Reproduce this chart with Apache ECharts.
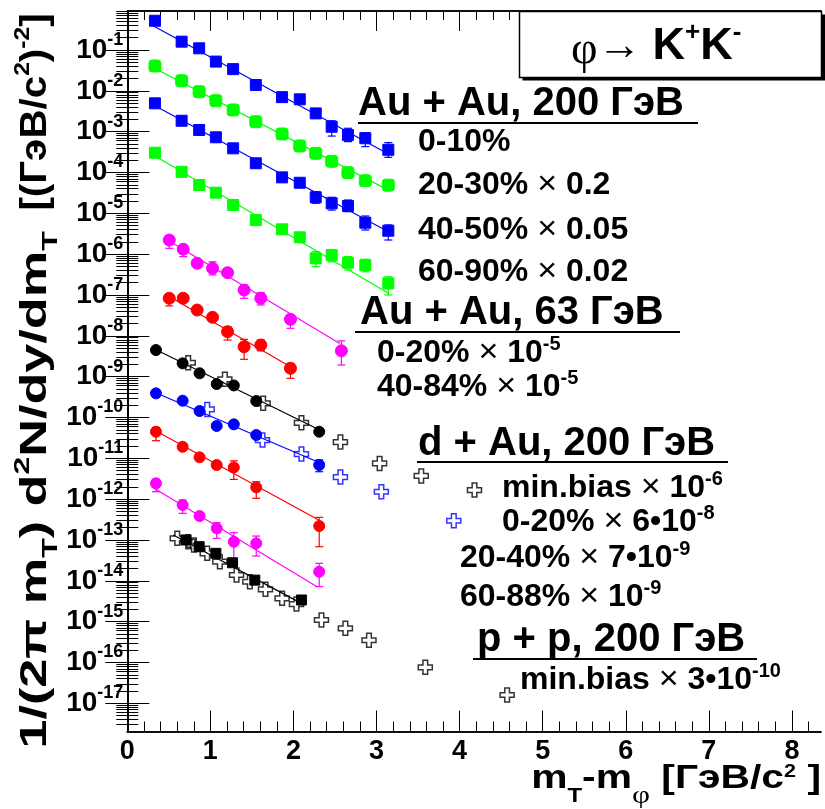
<!DOCTYPE html>
<html>
<head>
<meta charset="utf-8">
<script src="https://cdn.jsdelivr.net/npm/echarts@6/dist/echarts.min.js"></script>
<style>
  html, body { margin: 0; background: #fff; }
  #main { width: 825px; height: 809px; }
</style>
</head>
<body>
<div id="main"></div>
<script>
  // границы осей
  const xMin = 0, xMax = 8.35;
  const yMin = Math.pow(10, -17.69), yMax = Math.pow(10, -0.045);
  const xMajorTicks = [0, 1, 2, 3, 4, 5, 6, 7, 8];
  const yMajorTicks = [1e-17, 1e-16, 1e-15, 1e-14, 1e-13, 1e-12, 1e-11, 1e-10, 1e-9,
                       1e-8, 1e-7, 1e-6, 1e-5, 1e-4, 1e-3, 1e-2, 1e-1];

  // Au + Au, 200 ГэВ
  const xAuAu200 = [0.333, 0.654, 0.865, 1.066, 1.274, 1.547, 1.863, 2.076, 2.268, 2.460, 2.656, 2.865, 3.142];
  const yAuAu200_0_10 = [0.52, 0.16, 0.11, 0.052, 0.034, 0.0139, 0.0070, 0.0062, 0.0028, 0.00132, 0.00083, 0.00069, 0.00036];
  const yAuAu200_20_30 = [0.0406, 0.0177, 0.00953, 0.00573, 0.0034, 0.00175, 8.77e-4, 4.46e-4, 2.95e-4, 1.88e-4, 9.9e-5, 6.3e-5, 4.9e-5];
  const yAuAu200_40_50 = [4.94e-3, 1.85e-3, 1.10e-3, 7.28e-4, 3.91e-4, 1.68e-4, 7.6e-5, 5.6e-5, 2.47e-5, 1.76e-5, 1.51e-5, 5.9e-6, 3.75e-6];
  const yAuAu200_60_90 = [3.05e-4, 1.04e-4, 4.94e-5, 3.2e-5, 1.6e-5, 6.85e-6, 4.06e-6, 2.59e-6, 7.9e-7, 9.5e-7, 6.2e-7, 5.4e-7, 1.93e-7];

  // Au + Au, 63 ГэВ
  const xAuAu63 = [0.505, 0.673, 0.841, 1.026, 1.207, 1.406, 1.607, 1.964, 2.577];
  const yAuAu63_0_20 = [2.22e-6, 1.32e-6, 5.97e-7, 4.5e-7, 3.52e-7, 1.32e-7, 8.3e-8, 2.54e-8, 4.3e-9];
  const yAuAu63_40_84 = [8.3e-8, 8.3e-8, 4.28e-8, 2.84e-8, 1.26e-8, 5.4e-9, 5.96e-9, 1.6e-9];

  // d + Au, 200 ГэВ
  const xDAu = [0.345, 0.666, 0.870, 1.076, 1.282, 1.552, 2.31];
  const yDAuMinBias = [4.49e-9, 2.12e-9, 1.21e-9, 6.6e-10, 6.1e-10, 2.53e-10, 4.48e-11];
  const yDAu_0_20 = [3.9e-10, 2.58e-10, 1.44e-10, 6.2e-11, 6.8e-11, 3.72e-11, 6.86e-12];
  const yDAu_20_40 = [4.48e-11, 1.92e-11, 1.06e-11, 6.86e-12, 6.0e-12, 1.95e-12, 2.2e-13];
  const yDAu_60_88 = [2.44e-12, 7.2e-13, 3.86e-13, 1.93e-13, 9.06e-14, 8.3e-14, 1.67e-14];
  const xDAuMinBiasOpen = [0.733, 1.174, 1.635, 2.096, 2.565, 3.037, 3.538, 4.179];
  const yDAuMinBiasOpen = [2.19e-9, 8.6e-10, 2.22e-10, 7.4e-11, 2.5e-11, 7.5e-12, 3.7e-12, 1.67e-12];
  const xDAu_0_20Open = [0.962, 1.627, 2.096, 2.565, 3.058, 3.930];
  const yDAu_0_20Open = [1.58e-10, 2.8e-11, 1.27e-11, 3.48e-12, 1.52e-12, 2.96e-13];

  // p + p, 200 ГэВ
  const xPP = [0.706, 0.865, 1.066, 1.267, 1.535, 2.096];
  const yPP = [1e-13, 6.84e-14, 4.71e-14, 2.77e-14, 1.04e-14, 3.39e-15];
  const xPPOpen = [0.601, 0.733, 0.802, 0.962, 1.114, 1.315, 1.475, 1.663, 1.863, 2.036, 2.337, 2.625, 2.909, 3.587, 4.572];
  const yPPOpen = [1.1e-13, 9.06e-14, 7.53e-14, 4.71e-14, 2.94e-14, 1.39e-14, 9.5e-15, 6.2e-15, 3.72e-15, 2.7e-15, 1.1e-15, 6.85e-16, 3.5e-16, 7.6e-17, 1.6e-17];

  // фиты (две точки прямой в логарифмическом масштабе)
  const fitAuAu200_0_10 = [[0.293, 0.41], [3.142, 2.84e-4]];
  const fitAuAu200_20_30 = [[0.293, 0.039], [3.142, 3.7e-5]];
  const fitAuAu200_40_50 = [[0.293, 4.75e-3], [3.142, 3.55e-6]];
  const fitAuAu200_60_90 = [[0.293, 2.84e-4], [3.142, 1.1e-7]];
  const fitAuAu63_0_20 = [[0.474, 2.3e-6], [2.557, 6.5e-9]];
  const fitAuAu63_40_84 = [[0.474, 1.0e-7], [1.964, 1.75e-9]];
  const fitDAuMinBias = [[0.333, 4.67e-9], [2.316, 4.93e-11]];
  const fitDAu_0_20 = [[0.313, 4.28e-10], [2.336, 7.5e-12]];
  const fitDAu_20_40 = [[0.313, 5.1e-11], [2.304, 3.08e-13]];
  const fitDAu_60_88 = [[0.293, 2.02e-12], [2.284, 7.2e-15]];
  const fitPP = [[0.553, 1.32e-13], [2.096, 2.8e-15]];

  // ошибки [x, низ, верх]
  const errAuAu200_0_10 = [[2.460, 7.8e-4, 1.85e-3], [2.656, 5.7e-4, 1.21e-3], [2.865, 4.3e-4, 9.4e-4], [3.142, 2.35e-4, 5.4e-4]];
  const errAuAu200_40_50 = [[2.268, 1.76e-5, 3.39e-5], [2.460, 1.2e-5, 2.47e-5], [2.656, 1.1e-5, 2.12e-5], [2.865, 3.9e-6, 8.6e-6], [3.142, 2.22e-6, 5.2e-6]];
  const errAuAu200_60_90 = [[2.268, 4.93e-7, 1.15e-6], [2.460, 6.5e-7, 1.26e-6], [2.656, 4.1e-7, 8.7e-7], [2.865, 3.7e-7, 7.5e-7], [3.142, 1.0e-7, 2.8e-7]];
  const errAuAu63_0_20 = [[0.505, 1.39e-6, 2.67e-6], [0.673, 8.7e-7, 1.68e-6], [1.026, 3.1e-7, 6.5e-7], [1.406, 8.3e-8, 1.75e-7], [1.607, 5.7e-8, 1.14e-7], [1.964, 1.53e-8, 3.24e-8], [2.577, 1.93e-9, 7.5e-9]];
  const errAuAu63_40_84 = [[0.505, 5.4e-8, 1e-7], [1.207, 7.9e-9, 1.67e-8], [1.406, 2.66e-9, 8.2e-9], [1.607, 4.3e-9, 7.9e-9], [1.964, 9.1e-10, 2.1e-9]];
  const errDAu_0_20 = [[2.31, 4.7e-12, 9.1e-12]];
  const errDAu_20_40 = [[0.345, 2.7e-11, 5.7e-11], [1.282, 3.05e-12, 8.7e-12], [1.552, 1.05e-12, 2.67e-12], [2.31, 6.84e-14, 3.59e-13]];
  const errDAu_60_88 = [[0.345, 1.52e-12, 3.05e-12], [0.666, 4.5e-13, 9.5e-13], [1.076, 1.1e-13, 2.65e-13], [1.282, 2.68e-14, 1.51e-13], [1.552, 4.05e-14, 1.25e-13], [2.31, 7.2e-15, 2.68e-14]];

  const BLUE = '#0000ff', GREEN = '#00ff00', MAGENTA = '#ff00ff', RED = '#ff0000', BLACK = '#000000';
  const SANS = "'Liberation Sans', Arial, Helvetica, sans-serif";
  const SERIF = "'Liberation Serif', 'Times New Roman', serif";
  const CROSS = 'path://M3,0L6,0L6,3L9,3L9,6L6,6L6,9L3,9L3,6L0,6L0,3L3,3Z';

  function pts(xs, ys) {
    return xs.map((x, i) => [x, ys[i]]);
  }

  function markers(xs, ys, color, symbol, size, open) {
    return {
      type: 'scatter', data: pts(xs, ys), symbol: symbol, symbolSize: size, z: 5, silent: true,
      itemStyle: open
        ? { color: 'rgba(255,255,255,0)', borderColor: color, borderWidth: 1.5 }
        : { color: color, borderColor: color, borderWidth: 1, opacity: 1 }
    };
  }

  function fit(p, color) {
    return { type: 'line', data: p, symbol: 'none', silent: true, z: 3, lineStyle: { color: color, width: 1.2 } };
  }

  function errors(errs, color) {
    return {
      type: 'custom', data: errs, encode: { x: 0, y: [1, 2] }, z: 4, silent: true,
      renderItem: function (params, api) {
        const lo = api.coord([api.value(0), api.value(1)]);
        const hi = api.coord([api.value(0), api.value(2)]);
        const w = 4, st = { stroke: color, lineWidth: 1.2 };
        return {
          type: 'group', children: [
            { type: 'line', shape: { x1: lo[0], y1: lo[1], x2: hi[0], y2: hi[1] }, style: st },
            { type: 'line', shape: { x1: lo[0] - w, y1: lo[1], x2: lo[0] + w, y2: lo[1] }, style: st },
            { type: 'line', shape: { x1: hi[0] - w, y1: hi[1], x2: hi[0] + w, y2: hi[1] }, style: st }
          ]
        };
      }
    };
  }

  // мелкие деления
  const xMinorTicks = [];
  for (let i = 0; i <= 41; i++) if (i % 5) xMinorTicks.push(i / 5);
  const yMinorTicks = [];
  for (let e = -18; e <= -1; e++) for (let k = 2; k <= 9; k++) yMinorTicks.push(k * Math.pow(10, e));

  const frame = { show: true, lineStyle: { color: '#000', width: 1.5 } };
  const tickStyle = { color: '#000', width: 1 };

  const yLabelRich = {
    b: { fontFamily: SANS, fontWeight: 'bold', fontSize: 28, color: '#000' },
    e: { fontFamily: SANS, fontWeight: 'bold', fontSize: 18, color: '#000', padding: [0, 0, 20, 0] }
  };

  function xAxisDef(pos, ticks, len, labels) {
    return {
      type: 'value', min: xMin, max: xMax, position: pos,
      axisLine: frame, splitLine: { show: false },
      axisTick: { show: true, inside: true, length: len, customValues: ticks, lineStyle: tickStyle },
      axisLabel: labels ? {
        show: true, customValues: xMajorTicks, margin: 7, color: '#000',
        fontFamily: SANS, fontWeight: 'bold', fontSize: 27
      } : { show: false }
    };
  }

  function yAxisDef(pos, ticks, len, labels) {
    return {
      type: 'log', logBase: 10, min: yMin, max: yMax, position: pos,
      axisLine: frame, splitLine: { show: false },
      axisTick: { show: true, inside: true, length: len, customValues: ticks, lineStyle: tickStyle },
      axisLabel: labels ? {
        show: true, customValues: yMajorTicks, margin: 4, color: '#000',
        fontFamily: SANS, fontWeight: 'bold', fontSize: 28,
        formatter: function (v) {
          return '{b|10}{e|' + Math.round(Math.log10(v)) + '}';
        },
        rich: yLabelRich
      } : { show: false }
    };
  }

  const mainRich = {
    h: { fontFamily: SANS, fontWeight: 'bold', fontSize: 40, color: '#000' },
    n: { fontFamily: SANS, fontWeight: 'bold', fontSize: 32, color: '#000' },
    x: { fontFamily: SANS, fontWeight: 'normal', fontSize: 34, color: '#000' },
    s: { fontFamily: SANS, fontWeight: 'bold', fontSize: 20, color: '#000', padding: [0, 0, 18, 0] }
  };

  function label(x, y, text) {
    return { type: 'text', x: x, y: y, z: 10, style: { text: text, rich: mainRich, align: 'left', verticalAlign: 'middle' } };
  }

  function underline(x1, x2, y) {
    return { type: 'line', z: 10, shape: { x1: x1, y1: y, x2: x2, y2: y }, style: { stroke: '#000', lineWidth: 2 } };
  }

  const yTitleRich = {
    n: { fontFamily: SANS, fontWeight: 'bold', fontSize: 36, color: '#000' },
    t: { fontFamily: SANS, fontWeight: 'bold', fontSize: 22, color: '#000', padding: [30, 0, 0, 0] },
    s: { fontFamily: SANS, fontWeight: 'bold', fontSize: 22, color: '#000', padding: [0, 0, 26, 0] }
  };

  const graphics = [
    // рамка заголовка
    { type: 'rect', z: 8, shape: { x: 522.5, y: 14.5, width: 310, height: 66 }, style: { fill: '#000' } },
    { type: 'rect', z: 9, shape: { x: 519.5, y: 11.5, width: 302, height: 66 }, style: { fill: '#fff', stroke: '#000', lineWidth: 1.5 } },
    {
      type: 'text', x: 571, y: 47, z: 10,
      style: {
        text: '{p|φ}{a|→ }{k|K}{u|+}{k|K}{u|-}', align: 'left', verticalAlign: 'middle',
        rich: {
          p: { fontFamily: SERIF, fontSize: 46, color: '#000', padding: [8, 0, 0, 0] },
          a: { fontFamily: SERIF, fontSize: 44, color: '#000' },
          k: { fontFamily: SANS, fontWeight: 'bold', fontSize: 45, color: '#000' },
          u: { fontFamily: SANS, fontWeight: 'bold', fontSize: 26, color: '#000', padding: [0, 0, 28, 0] }
        }
      }
    },
    label(358, 104, '{h|Au + Au, 200 ГэВ}'),
    underline(358, 698, 123),
    label(418, 142, '{n|0-10%}'),
    label(418, 185, '{n|20-30% }{x|×}{n| 0.2}'),
    label(418, 230, '{n|40-50% }{x|×}{n| 0.05}'),
    label(418, 272, '{n|60-90% }{x|×}{n| 0.02}'),
    label(360, 313, '{h|Au + Au, 63 ГэВ}'),
    underline(355, 680, 332),
    label(377, 353, '{n|0-20% }{x|×}{n| 10}{s|-5}'),
    label(377, 387, '{n|40-84% }{x|×}{n| 10}{s|-5}'),
    label(418, 444, '{h|d + Au, 200 ГэВ}'),
    underline(417, 728, 462),
    label(502, 488, '{n|min.bias }{x|×}{n| 10}{s|-6}'),
    label(502, 522, '{n|0-20% }{x|×}{n| 6•10}{s|-8}'),
    label(460, 558, '{n|20-40% }{x|×}{n| 7•10}{s|-9}'),
    label(460, 597, '{n|60-88% }{x|×}{n| 10}{s|-9}'),
    label(477, 640, '{h|p + p, 200 ГэВ}'),
    underline(473, 757, 659),
    label(520, 680, '{n|min.bias }{x|×}{n| 3•10}{s|-10}'),
    // подпись оси X
    {
      type: 'text', x: 821, y: 779, z: 10, scaleX: 1.2,
      style: {
        text: '{n|m}{t|T}{n|-m}{f|φ}{n| [ГэВ/c}{s|2}{n| ]}', align: 'right', verticalAlign: 'middle',
        rich: {
          n: { fontFamily: SANS, fontWeight: 'bold', fontSize: 34, color: '#000' },
          t: { fontFamily: SANS, fontWeight: 'bold', fontSize: 20, color: '#000', padding: [34, 0, 0, 0] },
          f: { fontFamily: SERIF, fontSize: 26, color: '#000', padding: [34, 0, 0, 0] },
          s: { fontFamily: SANS, fontWeight: 'bold', fontSize: 18, color: '#000', padding: [0, 0, 14, 0] }
        }
      }
    },
    // подпись оси Y, две части
    {
      type: 'text', x: 36, y: 490, z: 10, rotation: Math.PI / 2, scaleX: 1.45,
      style: {
        text: '{n|1/(2π m}{t|T}{n|) d}{s|2}{n|N/dy/dm}{t|T}',
        align: 'center', verticalAlign: 'middle', rich: yTitleRich
      }
    },
    {
      type: 'text', x: 36, y: 112, z: 10, rotation: Math.PI / 2, scaleX: 1.12,
      style: {
        text: '{n|[(ГэВ/c}{s|2}{n|)}{s|-2}{n|]}',
        align: 'center', verticalAlign: 'middle', rich: yTitleRich
      }
    }
  ];

  const chart = echarts.init(document.getElementById('main'));
  chart.setOption({
    animation: false,
    backgroundColor: '#fff',
    grid: { left: 127.3, top: 11, width: 693.7, height: 720.5, containLabel: false, outerBoundsMode: 'none' },
    xAxis: [
      xAxisDef('bottom', xMajorTicks, 21, true),
      xAxisDef('bottom', xMinorTicks, 10, false),
      xAxisDef('top', xMajorTicks, 20, false),
      xAxisDef('top', xMinorTicks, 9, false)
    ],
    yAxis: [
      yAxisDef('left', yMajorTicks, 22, true),
      yAxisDef('left', yMinorTicks, 11, false),
      yAxisDef('right', yMajorTicks, 22, false),
      yAxisDef('right', yMinorTicks, 11, false)
    ],
    series: [
      fit(fitAuAu200_0_10, BLUE), fit(fitAuAu200_20_30, GREEN), fit(fitAuAu200_40_50, BLUE), fit(fitAuAu200_60_90, GREEN),
      fit(fitAuAu63_0_20, MAGENTA), fit(fitAuAu63_40_84, RED),
      fit(fitDAuMinBias, BLACK), fit(fitDAu_0_20, BLUE), fit(fitDAu_20_40, RED), fit(fitDAu_60_88, MAGENTA),
      fit(fitPP, BLACK),
      errors(errAuAu200_0_10, BLUE), errors(errAuAu200_40_50, BLUE), errors(errAuAu200_60_90, GREEN),
      errors(errAuAu63_0_20, MAGENTA), errors(errAuAu63_40_84, RED),
      errors(errDAu_0_20, BLUE), errors(errDAu_20_40, RED), errors(errDAu_60_88, MAGENTA),
      markers(xAuAu200, yAuAu200_0_10, BLUE, 'rect', 11),
      markers(xAuAu200, yAuAu200_20_30, GREEN, 'roundRect', 12),
      markers(xAuAu200, yAuAu200_40_50, BLUE, 'rect', 11),
      markers(xAuAu200, yAuAu200_60_90, GREEN, 'rect', 11),
      markers(xAuAu63, yAuAu63_0_20, MAGENTA, 'circle', 12),
      markers(xAuAu63, yAuAu63_40_84, RED, 'circle', 12),
      markers(xDAu, yDAuMinBias, BLACK, 'circle', 11),
      markers(xDAu, yDAu_0_20, BLUE, 'circle', 11),
      markers(xDAu, yDAu_20_40, RED, 'circle', 11),
      markers(xDAu, yDAu_60_88, MAGENTA, 'circle', 11),
      markers(xDAuMinBiasOpen, yDAuMinBiasOpen, BLACK, CROSS, 14, true),
      markers(xDAu_0_20Open, yDAu_0_20Open, BLUE, CROSS, 14, true),
      markers(xPP, yPP, BLACK, 'rect', 10),
      markers(xPPOpen, yPPOpen, BLACK, CROSS, 14, true)
    ],
    graphic: { elements: graphics }
  });
</script>
</body>
</html>
